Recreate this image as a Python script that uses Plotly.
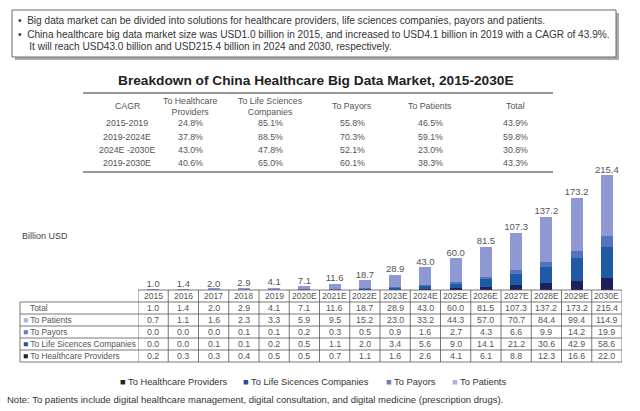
import plotly.graph_objects as go

# ---------------- data ----------------
years = ["2015", "2016", "2017", "2018", "2019", "2020E", "2021E", "2022E",
         "2023E", "2024E", "2025E", "2026E", "2027E", "2028E", "2029E", "2030E"]
total = [1.0, 1.4, 2.0, 2.9, 4.1, 7.1, 11.6, 18.7, 28.9, 43.0, 60.0, 81.5, 107.3, 137.2, 173.2, 215.4]
to_patients = [0.7, 1.1, 1.6, 2.3, 3.3, 5.9, 9.5, 15.2, 23.0, 33.2, 44.3, 57.0, 70.7, 84.4, 99.4, 114.9]
to_payors = [0.0, 0.0, 0.0, 0.1, 0.1, 0.2, 0.3, 0.5, 0.9, 1.6, 2.7, 4.3, 6.6, 9.9, 14.2, 19.9]
to_life_sci = [0.0, 0.0, 0.1, 0.1, 0.2, 0.5, 1.1, 2.0, 3.4, 5.6, 9.0, 14.1, 21.2, 30.6, 42.9, 58.6]
to_providers = [0.2, 0.3, 0.3, 0.4, 0.5, 0.5, 0.7, 1.1, 1.6, 2.6, 4.1, 6.1, 8.8, 12.3, 16.6, 22.0]

cagr_periods = ["2015-2019", "2019-2024E", "2024E -2030E", "2019-2030E"]
cagr_providers = ["24.8%", "37.8%", "43.0%", "40.6%"]
cagr_life_sci = ["85.1%", "88.5%", "47.8%", "65.0%"]
cagr_payors = ["55.8%", "70.3%", "52.1%", "60.1%"]
cagr_patients = ["46.5%", "59.1%", "23.0%", "38.3%"]
cagr_total = ["43.9%", "59.8%", "30.8%", "43.3%"]
cagr_headers = ["CAGR", "To Healthcare<br>Providers", "To Life Sciences<br>Companies",
                "To Payors", "To Patients", "Total"]

series_names = ["To Healthcare Providers", "To Life Sicences Companies", "To Payors", "To Patients"]
series_values = [to_providers, to_life_sci, to_payors, to_patients]
colors = ["#1c2159", "#1f5aa6", "#5673bd", "#8e98d2"]
legend_colors = ["#222222", "#2a4f98", "#6b7cc0", "#aab3de"]

bullets = [
    "Big data market can be divided into solutions for healthcare providers, life sciences companies, payors and patients.",
    "China healthcare big data market size was USD1.0 billion in 2015, and increased to USD4.1 billion in 2019 with a CAGR of 43.9%.",
    "It will reach USD43.0 billion and USD215.4 billion in 2024 and 2030, respectively.",
]
title = "Breakdown of China Healthcare Big Data Market, 2015-2030E"
note = "Note: To patients include digital healthcare management, digital consultation, and digital medicine (prescription drugs)."
unit_label = "Billion USD"

W, H = 640, 411
FONT = "Liberation Sans, Arial, sans-serif"
TXT = "#555555"
GRID = "#555555"


def px(v):
    return v / W


def py(v):
    return 1 - v / H


fig = go.Figure()

# ---------------- stacked bars ----------------
for name, vals, col in zip(series_names, series_values, colors):
    fig.add_trace(go.Bar(x=years, y=vals, name=name, marker=dict(color=col, line=dict(width=0)),
                         showlegend=False))

fig.add_trace(go.Scatter(x=years, y=total, mode="text", text=[f"{v:.1f}" for v in total],
                         textposition="top center", showlegend=False, cliponaxis=False,
                         textfont=dict(size=9.5, color="#555555", family=FONT), hoverinfo="skip"))

shapes = []
annotations = []


def ann(text, x, y, size, color="#333333", xanchor="center", xref="paper", **kw):
    d = dict(text=text, x=x, y=y, xref=xref, yref="paper", xanchor=xanchor, yanchor="middle",
             showarrow=False, font=dict(size=size, color=color, family=FONT))
    d.update(kw)
    annotations.append(d)


def hline(x0, x1, y, color=GRID, width=0.8, xref="paper"):
    shapes.append(dict(type="line", xref=xref, yref="paper", x0=x0, x1=x1, y0=py(y), y1=py(y),
                       line=dict(color=color, width=width)))


# ---------------- summary box ----------------
shapes.append(dict(type="rect", xref="paper", yref="paper", x0=px(15), x1=px(619), y0=py(60), y1=py(13),
                   fillcolor="#a9a9a9", line=dict(width=0), layer="below"))
shapes.append(dict(type="rect", xref="paper", yref="paper", x0=px(12), x1=px(616), y0=py(57), y1=py(10),
                   fillcolor="white", line=dict(color="#6a6a6a", width=1), layer="below"))
for i, (txt, yy) in enumerate(zip(bullets, [20, 34, 47])):
    ann(("•  " if i < 2 else "    ") + txt, px(16), py(yy), 10.1, color="#333333", xanchor="left")

# ---------------- title ----------------
ann("<b>" + title + "</b>", px(316), py(81), 13.7, color="#222222")

# ---------------- CAGR table ----------------
cagr_cols = [cagr_periods, cagr_providers, cagr_life_sci, cagr_payors, cagr_patients, cagr_total]
cagr_x = [127, 190, 270, 352, 430, 515]
cagr_row_y = [123, 137, 150, 163]
hline(px(83), px(553), 93, color="#777777", width=1.5)
hline(px(83), px(553), 172, color="#777777", width=1.5)
for hx, head, col in zip(cagr_x, cagr_headers, cagr_cols):
    ann(head, px(hx), py(106), 8.8, color=TXT)
    for yy, v in zip(cagr_row_y, col):
        ann(v, px(hx), py(yy), 8.8, color=TXT)

# ---------------- unit label ----------------
ann(unit_label, px(20), py(236), 9, color="#444444", xanchor="left")

# ---------------- data table ----------------
TOP, HEAD_B, ROW_H = 290, 302, 12
n_rows = 5
bottom = HEAD_B + n_rows * ROW_H
hline(-0.5, len(years) - 0.5, TOP, xref="x")
for r in range(n_rows + 1):
    hline(px(20), px(622), HEAD_B + r * ROW_H)
shapes.append(dict(type="line", xref="paper", yref="paper", x0=px(20), x1=px(20), y0=py(HEAD_B), y1=py(bottom),
                   line=dict(color=GRID, width=0.8)))
for i in range(len(years) + 1):
    shapes.append(dict(type="line", xref="x", yref="paper", x0=i - 0.5, x1=i - 0.5, y0=py(TOP), y1=py(bottom),
                       line=dict(color=GRID, width=0.8)))

# category index positions (avoid "2015" being read as a number)
for i, yr in enumerate(years):
    ann(yr, i, py(TOP + ROW_H / 2), 8.6, color=TXT, xref="x")

row_labels = ["Total"] + list(reversed(series_names))
row_marks = [None] + list(reversed(legend_colors))
rows = [total] + list(reversed(series_values))
for r, (lab, mc, vals) in enumerate(zip(row_labels, row_marks, rows)):
    yc = HEAD_B + r * ROW_H + ROW_H / 2
    if mc is None:
        ann(lab, px(28), py(yc), 8.4, color=TXT, xanchor="left")
    else:
        ann(f"<span style='color:{mc}'>■</span> {lab}", px(21), py(yc), 8.4, color=TXT, xanchor="left")
    for i, v in enumerate(vals):
        ann(f"{v:.1f}", i, py(yc), 8.8, color=TXT, xref="x")

# ---------------- legend ----------------
legend_x = [118, 241, 384, 450]
for name, c, lx in zip(series_names, legend_colors, legend_x):
    ann(f"<span style='color:{c}'>■</span> {name}", px(lx), py(382), 9.3, color="#333333", xanchor="left")

# ---------------- note ----------------
ann(note, px(5), py(399), 9.5, color="#333333", xanchor="left")

fig.update_layout(
    width=W, height=H, autosize=False,
    margin=dict(l=0, r=0, t=0, b=0),
    paper_bgcolor="white", plot_bgcolor="white",
    barmode="stack", bargap=0.6,
    xaxis=dict(domain=[px(138), px(622)], range=[-0.5, len(years) - 0.5], visible=False,
               type="category", fixedrange=True),
    yaxis=dict(domain=[py(TOP), py(170)], range=[0, 225], visible=False, fixedrange=True),
    shapes=shapes, annotations=annotations,
    font=dict(family=FONT),
)

fig.write_html("out.html")
